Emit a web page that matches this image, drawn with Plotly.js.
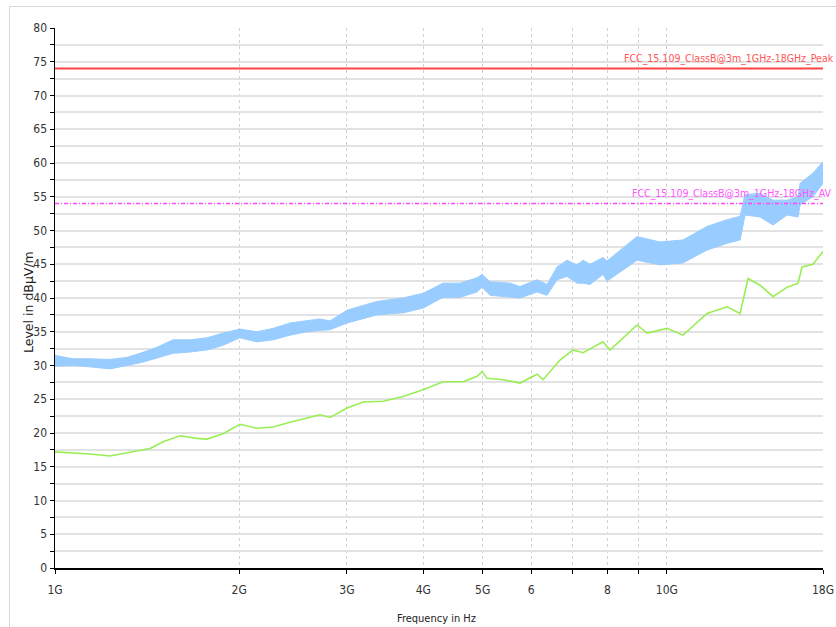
<!DOCTYPE html>
<html>
<head>
<meta charset="utf-8">
<script src="https://cdn.plot.ly/plotly-3.0.1.min.js"></script>
<style>
html,body{margin:0;padding:0;background:#fff;}
#frame{position:absolute;left:9px;top:6px;width:840px;height:640px;border:1px solid #d8d8d8;box-sizing:border-box;}
#chart{position:absolute;left:0;top:0;width:836px;height:627px;}
</style>
</head>
<body>
<div id="frame"></div>
<div id="chart"></div>
<script>
// Frequencies in GHz
const peakFreq = [1.000,1.070,1.141,1.230,1.311,1.377,1.468,1.559,1.663,1.772,1.882,2.006,2.139,2.272,2.422,2.582,2.711,2.815,3.002,3.360,3.706,3.996,4.307,4.592,4.896,4.989,5.141,5.543,5.755,6.136,6.371,6.615,6.869,7.132,7.295,7.490,7.865,7.984,8.941,9.747,10.628,11.634,12.544,13.174,13.424,14.203,14.916,15.722,16.387,16.511,17.336,18.000];
const peakUpper = [31.5,31.0,31.0,30.9,31.2,31.8,32.7,33.8,33.8,34.1,34.8,35.4,35.0,35.5,36.3,36.7,36.9,36.6,38.2,39.5,40.0,40.7,42.2,42.2,43.0,43.5,42.4,42.2,41.7,42.7,42.0,44.6,45.6,44.9,45.6,45.0,46.0,45.5,49.1,48.3,48.6,50.6,51.6,52.1,55.3,55.5,54.5,54.5,55.0,57.0,58.5,60.2];
const peakLower = [29.9,30.0,29.8,29.5,30.0,30.4,31.1,31.8,32.0,32.3,33.0,34.1,33.5,33.8,34.5,35.0,35.2,35.3,36.3,37.5,37.8,38.5,40.1,40.1,40.9,41.6,40.4,40.1,40.0,40.9,40.4,42.7,43.2,42.2,42.2,42.0,43.5,42.5,45.6,44.9,45.2,47.1,48.1,48.6,52.3,52.0,50.8,52.3,52.0,53.8,55.0,57.0];

const avgFreq = [1.000,1.070,1.141,1.230,1.311,1.377,1.430,1.502,1.601,1.707,1.772,1.882,2.006,2.139,2.272,2.422,2.582,2.711,2.815,3.002,3.188,3.437,3.706,3.996,4.307,4.645,4.896,4.989,5.083,5.399,5.755,6.136,6.276,6.690,7.026,7.295,7.865,8.074,8.941,9.284,10.007,10.628,11.634,12.544,13.174,13.577,14.203,14.916,15.722,16.387,16.636,17.336,18.000];
const avgLevel = [17.2,17.1,16.9,16.6,17.1,17.4,17.7,18.7,19.6,19.2,19.1,19.9,21.3,20.7,20.9,21.6,22.2,22.7,22.3,23.7,24.6,24.7,25.4,26.4,27.6,27.6,28.4,29.1,28.1,27.9,27.4,28.7,27.9,30.8,32.3,31.9,33.5,32.3,36.0,34.8,35.5,34.5,37.7,38.7,37.7,42.9,41.9,40.2,41.6,42.2,44.6,45.0,46.9];

const limitFreq = [1.0, 18.0];
const peakLimit = [74, 74];
const avLimit = [54, 54];
const peakLimitName = 'FCC_15.109_ClassB@3m_1GHz-18GHz_Peak';
const avLimitName = 'FCC_15.109_ClassB@3m_1GHz-18GHz_AV';

const xTickVals = [1,2,3,4,5,6,7,8,9,10,18];
const xTickText = ['1G','2G','3G','4G','5G','6','','8','','10G','18G'];
const yTickVals = [];
const yTickText = [];
for (let v = 0; v <= 80; v += 2.5) { yTickVals.push(v); yTickText.push(v % 5 === 0 ? String(v) : ''); }

const font = '"DejaVu Sans Condensed", "Liberation Sans Narrow", "Liberation Sans", Arial, sans-serif';
const tickFont = '"DejaVu Sans Condensed", "Liberation Sans", Arial, sans-serif';

const traces = [
  {x: peakFreq, y: peakLower, mode: 'lines', line: {color: '#99ccff', width: 1}},
  {x: peakFreq, y: peakUpper, mode: 'lines', line: {color: '#99ccff', width: 1}, fill: 'tonexty', fillcolor: '#99ccff'},
  {x: avgFreq, y: avgLevel, mode: 'lines', line: {color: '#99ee55', width: 1.6}},
  {x: limitFreq, y: peakLimit, mode: 'lines', line: {color: '#ff4444', width: 2}},
  {x: limitFreq, y: avLimit, mode: 'lines', line: {color: '#ff44ff', width: 1.5, dash: '4px,2px,1px,2px'}}
];

const layout = {
  width: 836, height: 627,
  margin: {l: 55, r: 13, t: 28, b: 59},
  paper_bgcolor: 'rgba(0,0,0,0)',
  plot_bgcolor: '#ffffff',
  showlegend: false,
  font: {family: tickFont, color: '#333', size: 12},
  xaxis: {
    type: 'log', range: [0, Math.log10(18)],
    tickvals: xTickVals, ticktext: xTickText,
    showgrid: true, gridcolor: '#d0d0d0', griddash: 'dot', gridwidth: 1,
    showline: true, linecolor: '#000', linewidth: 1.5,
    ticks: 'outside', ticklen: 4, tickcolor: '#000',
    ticklabelstandoff: 6,
    tickfont: {family: tickFont, size: 12, color: '#333'},
    zeroline: false
  },
  yaxis: {
    range: [0, 80],
    tickvals: yTickVals, ticktext: yTickText,
    showgrid: true, gridcolor: '#e2e2e2', gridwidth: 2,
    showline: true, linecolor: '#000', linewidth: 1.5,
    ticks: 'outside', ticklen: 4, tickcolor: '#000',
    tickfont: {family: tickFont, size: 12, color: '#333'},
    zeroline: false
  },
  annotations: [
    {x: Math.log10(18), y: 74, xref: 'x', yref: 'y', text: peakLimitName, showarrow: false,
     xanchor: 'right', yanchor: 'bottom', xshift: 13, yshift: 1, font: {family: font, size: 10.5, color: '#ff5555'}},
    {x: Math.log10(18), y: 54, xref: 'x', yref: 'y', text: avLimitName, showarrow: false,
     xanchor: 'right', yanchor: 'bottom', xshift: 11, yshift: 2, font: {family: font, size: 10.5, color: '#ff55ff'}},
    {x: -0.0339, y: 0.4926, xref: 'paper', yref: 'paper', text: 'Level in dBµV/m', showarrow: false, textangle: -90,
     xanchor: 'center', yanchor: 'middle', font: {family: '"DejaVu Sans", sans-serif', size: 12.5, color: '#222'}},
    {x: 0.497, y: -0.0926, xref: 'paper', yref: 'paper', text: 'Frequency in Hz', showarrow: false,
     xanchor: 'center', yanchor: 'middle', font: {family: font, size: 11, color: '#222'}}
  ]
};

Plotly.newPlot('chart', traces, layout, {displayModeBar: false, staticPlot: true});
</script>
</body>
</html>
